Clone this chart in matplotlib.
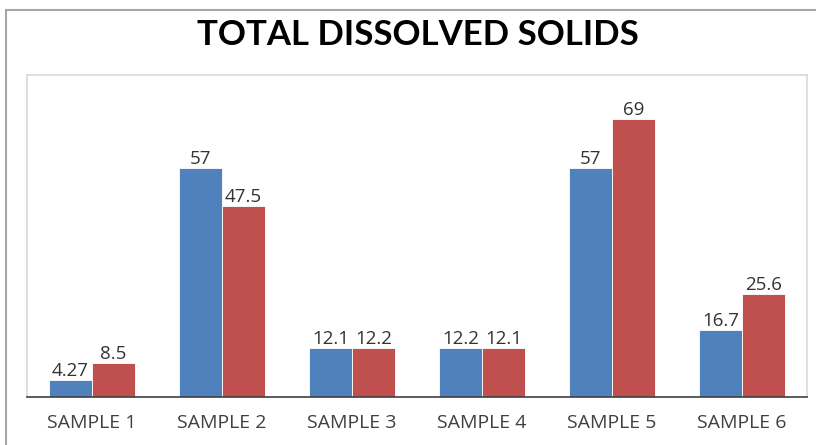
import matplotlib
matplotlib.use("Agg")
import matplotlib.pyplot as plt
import numpy as np
from matplotlib.patches import Rectangle

categories = ["SAMPLE 1", "SAMPLE 2", "SAMPLE 3", "SAMPLE 4", "SAMPLE 5", "SAMPLE 6"]
series_a = [4.27, 57, 12.1, 12.2, 57, 16.7]
series_b = [8.5, 47.5, 12.2, 12.1, 69, 25.6]
labels_a = ["4.27", "57", "12.1", "12.2", "57", "16.7"]
labels_b = ["8.5", "47.5", "12.2", "12.1", "69", "25.6"]

blue = "#4F81BD"
red = "#C0504D"
label_font = "Open Sans"
title_font = "Lato"

W, H = 816, 445
fig = plt.figure(figsize=(W / 100, H / 100), dpi=100)
fig.patch.set_facecolor("white")

# outer chart frame
fig.add_artist(Rectangle((6 / W, -0.05), 1.2, 1 - 10 / H + 0.05, transform=fig.transFigure,
                         fill=False, edgecolor="#A6A6A6", linewidth=1.5))

ax = fig.add_axes([27 / W, 48 / H, (807 - 27) / W, (397 - 75) / H])
x = np.arange(len(categories))
w = 0.33
ax.bar(x - w / 2, series_a, w, color=blue, edgecolor="white", linewidth=0.6, zorder=2)
ax.bar(x + w / 2, series_b, w, color=red, edgecolor="white", linewidth=0.6, zorder=2)

for xs, vals, texts in ((x - w / 2, series_a, labels_a), (x + w / 2, series_b, labels_b)):
    for xi, v, t in zip(xs, vals, texts):
        ax.text(xi, v + 1.0, t, ha="center", va="baseline", fontsize=13.5,
                color="#333333", family=label_font)

ax.set_xlim(-0.5, len(categories) - 0.5)
ax.set_ylim(0, 80)
ax.set_yticks([])
ax.set_xticks(x)
ax.set_xticklabels(categories, fontsize=14, color="#404040", family=label_font)
ax.tick_params(axis="x", length=0, pad=12)
for s in ["top", "left", "right"]:
    ax.spines[s].set_color("#D9D9D9")
    ax.spines[s].set_linewidth(1.2)
ax.spines["bottom"].set_color("#404040")
ax.spines["bottom"].set_linewidth(1.2)

fig.text(418 / W, 1 - 35 / H, "TOTAL DISSOLVED SOLIDS", ha="center", va="center",
         fontsize=25, fontweight="bold", color="black", family=title_font)

fig.savefig("out.png", dpi=100)
